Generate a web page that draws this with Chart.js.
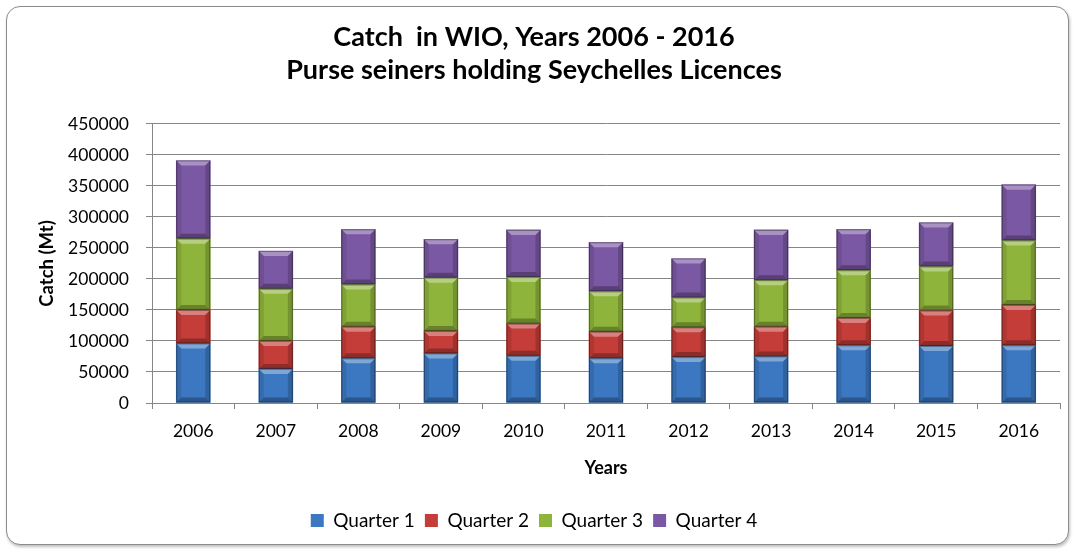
<!DOCTYPE html>
<html><head><meta charset="utf-8">
<script src="https://cdn.jsdelivr.net/npm/chart.js@4/dist/chart.umd.min.js"></script>
<style>
html,body{margin:0;padding:0;background:#fff;}
#wrap{position:relative;width:1073px;height:550px;overflow:hidden;}
#frame{position:absolute;left:6px;top:6px;width:1061px;height:537px;border:1px solid #8c8c8c;border-radius:14px;box-shadow:1px 2px 3px rgba(0,0,0,0.25);background:#fff;}
canvas{position:absolute;left:0;top:0;}
</style></head><body>
<div id="wrap"><div id="frame"></div><canvas id="c" width="1073" height="550"></canvas></div>
<script>
const categories = ['2006','2007','2008','2009','2010','2011','2012','2013','2014','2015','2016'];
const quarter1 = [96000, 55000, 72000, 80000, 76000, 72000, 74000, 75000, 93000, 92000, 93000];
const quarter2 = [54000, 45000, 51000, 36000, 52000, 43000, 48000, 48000, 44000, 57000, 65000];
const quarter3 = [115000, 84000, 68000, 86000, 75000, 65000, 48000, 75000, 77000, 71000, 104000];
const quarter4 = [126000, 61000, 89000, 62000, 76000, 79000, 63000, 81000, 66000, 71000, 90000];
const seriesNames = ['Quarter 1', 'Quarter 2', 'Quarter 3', 'Quarter 4'];
const yTicks = [0, 50000, 100000, 150000, 200000, 250000, 300000, 350000, 400000, 450000];
const titleLines = ['Catch  in WIO, Years 2006 - 2016', 'Purse seiners holding Seychelles Licences'];

const colors = ['#3b78c1', '#c43d38', '#8fb43c', '#7b58a3'];
const FONT = 'Lato, "Open Sans", sans-serif';

const bevel = {
  id: 'bevel',
  afterDatasetsDraw(chart) {
    const ctx = chart.ctx;
    chart.data.datasets.forEach((ds, di) => {
      const meta = chart.getDatasetMeta(di);
      meta.data.forEach(el => {
        const p = el.getProps(['x', 'y', 'base', 'width'], true);
        const l = p.x - p.width / 2, r = p.x + p.width / 2;
        const t = Math.min(p.y, p.base), b = Math.max(p.y, p.base);
        const bv = Math.min(5, (b - t) / 2);
        ctx.save();
        const poly = (pts, c) => { ctx.beginPath(); ctx.moveTo(pts[0][0], pts[0][1]); for (let i = 1; i < pts.length; i++) ctx.lineTo(pts[i][0], pts[i][1]); ctx.closePath(); ctx.fillStyle = c; ctx.fill(); };
        poly([[l, t], [r, t], [r - bv, t + bv], [l + bv, t + bv]], 'rgba(255,255,255,0.35)');
        poly([[l, b], [r, b], [r - bv, b - bv], [l + bv, b - bv]], 'rgba(0,0,0,0.28)');
        poly([[l, t], [l + bv, t + bv], [l + bv, b - bv], [l, b]], 'rgba(0,0,0,0.10)');
        poly([[r, t], [r - bv, t + bv], [r - bv, b - bv], [r, b]], 'rgba(0,0,0,0.18)');
        ctx.strokeStyle = 'rgba(0,0,0,0.35)';
        ctx.lineWidth = 1;
        ctx.strokeRect(l + 0.5, t + 0.5, r - l - 1, b - t - 1);
        ctx.restore();
      });
    });
  }
};

const series = [quarter1, quarter2, quarter3, quarter4];
new Chart(document.getElementById('c'), {
  type: 'bar',
  data: {
    labels: categories,
    datasets: series.map((d, i) => ({
      label: seriesNames[i],
      data: d,
      backgroundColor: colors[i],
      borderWidth: 0,
      barThickness: 34
    }))
  },
  plugins: [bevel],
  options: {
    responsive: false,
    animation: false,
    layout: { padding: { left: 8, right: 13, top: 21, bottom: 10 } },
    plugins: {
      title: {
        display: true,
        text: titleLines,
        color: '#000',
        font: { family: FONT, size: 27, weight: 'bold', lineHeight: 1.22 },
        padding: { top: 0, bottom: 37 }
      },
      legend: {
        position: 'bottom',
        labels: {
          color: '#000',
          font: { family: FONT, size: 19 },
          boxWidth: 13, boxHeight: 13,
          padding: 10
        }
      },
      tooltip: { enabled: false }
    },
    scales: {
      x: {
        stacked: true,
        afterFit(s) { s.height = 98; },
        grid: { display: true, drawOnChartArea: false, drawTicks: true, tickLength: 6, color: '#868686', offset: true },
        border: { color: '#868686' },
        ticks: { color: '#000', font: { family: FONT, size: 17.5 }, padding: 12 },
        title: { display: true, text: 'Years', color: '#000', font: { family: FONT, size: 18, weight: 'bold', lineHeight: 1.2 }, padding: { top: 0, bottom: 22 } }
      },
      y: {
        stacked: true,
        min: 0, max: 450000,
        afterFit(s) { s.width = 144; },
        afterBuildTicks(s) { s.ticks = yTicks.map(v => ({ value: v })); },
        grid: { color: '#868686', tickLength: 6 },
        border: { color: '#868686' },
        ticks: { color: '#000', font: { family: FONT, size: 17.5 }, padding: 17, callback: v => String(v) },
        title: { display: true, text: 'Catch (Mt)', color: '#000', font: { family: FONT, size: 18.5, weight: 'bold', lineHeight: 1.2 }, padding: { top: 28, bottom: 0 } }
      }
    }
  }
});
</script>
</body></html>
